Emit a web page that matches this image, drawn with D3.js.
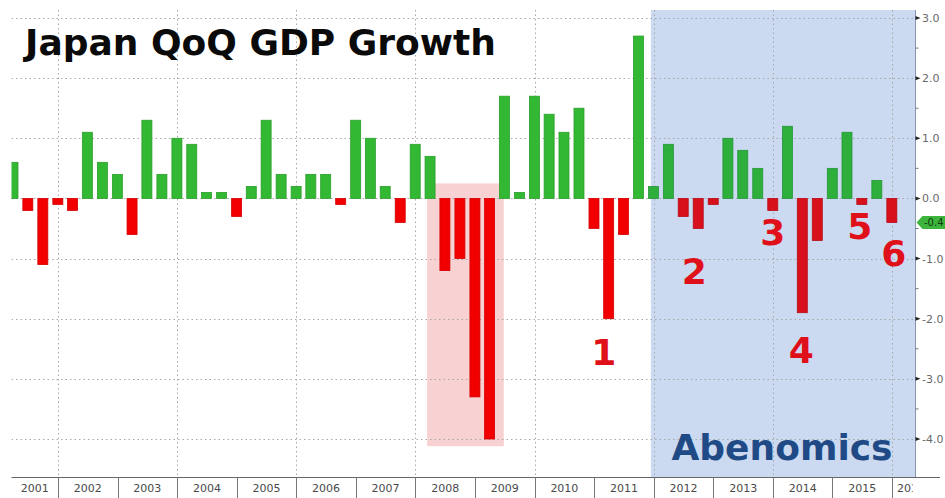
<!DOCTYPE html>
<html>
<head>
<meta charset="utf-8">
<script src="https://cdn.jsdelivr.net/npm/d3@7"></script>
<style>
  html, body { margin: 0; padding: 0; background: #ffffff; }
  svg { display: block; }
</style>
</head>
<body>
<svg id="chart" width="945" height="498"></svg>
<script>
// Quarter-on-quarter real GDP growth, Japan (%)
const quarters = [
  "2001Q1","2001Q2","2001Q3","2001Q4",
  "2002Q1","2002Q2","2002Q3","2002Q4",
  "2003Q1","2003Q2","2003Q3","2003Q4",
  "2004Q1","2004Q2","2004Q3","2004Q4",
  "2005Q1","2005Q2","2005Q3","2005Q4",
  "2006Q1","2006Q2","2006Q3","2006Q4",
  "2007Q1","2007Q2","2007Q3","2007Q4",
  "2008Q1","2008Q2","2008Q3","2008Q4",
  "2009Q1","2009Q2","2009Q3","2009Q4",
  "2010Q1","2010Q2","2010Q3","2010Q4",
  "2011Q1","2011Q2","2011Q3","2011Q4",
  "2012Q1","2012Q2","2012Q3","2012Q4",
  "2013Q1","2013Q2","2013Q3","2013Q4",
  "2014Q1","2014Q2","2014Q3","2014Q4",
  "2015Q1","2015Q2","2015Q3","2015Q4"
];
const growth = [
   0.6, -0.2, -1.1, -0.1,
  -0.2,  1.1,  0.6,  0.4,
  -0.6,  1.3,  0.4,  1.0,
   0.9,  0.1,  0.1, -0.3,
   0.2,  1.3,  0.4,  0.2,
   0.4,  0.4, -0.1,  1.3,
   1.0,  0.2, -0.4,  0.9,
   0.7, -1.2, -1.0, -3.3,
  -4.0,  1.7,  0.1,  1.7,
   1.4,  1.1,  1.5, -0.5,
  -2.0, -0.6,  2.7,  0.2,
   0.9, -0.3, -0.5, -0.1,
   1.0,  0.8,  0.5, -0.2,
   1.2, -1.9, -0.7,  0.5,
   1.1, -0.1,  0.3, -0.4
];
const yearLabels = ["2001","2002","2003","2004","2005","2006","2007","2008",
                    "2009","2010","2011","2012","2013","2014","2015","2016"];
const valueTicks = [3, 2, 1, 0, -1, -2, -3, -4];
const gridYears = [2002, 2004, 2006, 2008, 2010, 2012, 2014, 2016];
// numbered contractions
const callouts = [
  { quarter: "2011Q1", label: "1" },
  { quarter: "2012Q3", label: "2" },
  { quarter: "2013Q4", label: "3" },
  { quarter: "2014Q2", label: "4" },
  { quarter: "2015Q2", label: "5" },
  { quarter: "2015Q4", label: "6" }
];
const crisisSpan = { from: "2008-03-13", to: "2009-06-26", top: 0.25, bottom: -4.12 };
const abenomicsStart = "2011-12-15";
const titleText = "Japan QoQ GDP Growth";
const regimeText = "Abenomics";

// ---- layout ----
const W = 945, H = 498;
const plot = { left: 11.5, right: 915.5, top: 10, bottom: 477.5 };

const quarterEnd = q => {
  const yr = +q.slice(0, 4), qn = +q.slice(5);
  return new Date(Date.UTC(yr, qn * 3, 0));
};
const parseDay = s => new Date(s + "T00:00:00Z");

const x = d3.scaleUtc()
  .domain([new Date(Date.UTC(2002, 0, 1)), new Date(Date.UTC(2016, 0, 1))])
  .range([58, 892]);
const y = d3.scaleLinear().domain([3, -4]).range([18, 439]);

const data = quarters.map((q, i) => ({ q, date: quarterEnd(q), v: growth[i] }));
const aStart = parseDay(abenomicsStart);

const svg = d3.select("#chart");
const defs = svg.append("defs");
defs.append("clipPath").attr("id", "plotClip")
  .append("rect")
  .attr("x", plot.left).attr("y", plot.top)
  .attr("width", plot.right - plot.left).attr("height", plot.bottom - plot.top);
defs.append("clipPath").attr("id", "yearClip")
  .append("rect").attr("x", 0).attr("y", plot.bottom).attr("width", 913).attr("height", 30);

svg.append("rect").attr("width", W).attr("height", H).attr("fill", "#ffffff");

const inner = svg.append("g").attr("clip-path", "url(#plotClip)");

// Abenomics period
inner.append("rect")
  .attr("x", x(aStart))
  .attr("width", plot.right - x(aStart))
  .attr("y", plot.top).attr("height", plot.bottom - plot.top)
  .attr("fill", "#cbdaf0");

// 2008-09 recession band
inner.append("rect")
  .attr("x", x(parseDay(crisisSpan.from)))
  .attr("width", x(parseDay(crisisSpan.to)) - x(parseDay(crisisSpan.from)))
  .attr("y", y(crisisSpan.top))
  .attr("height", y(crisisSpan.bottom) - y(crisisSpan.top))
  .attr("fill", "#f8d2d2");

// dotted grid
inner.append("g").selectAll("line").data(valueTicks).join("line")
  .attr("x1", plot.left).attr("x2", plot.right)
  .attr("y1", d => Math.round(y(d)) + 0.5).attr("y2", d => Math.round(y(d)) + 0.5)
  .attr("stroke", "#a8a8a8").attr("stroke-width", 1).attr("stroke-dasharray", "1.5,3");
inner.append("g").selectAll("line").data(gridYears).join("line")
  .attr("x1", d => Math.round(x(new Date(Date.UTC(d, 0, 1)))) + 0.5)
  .attr("x2", d => Math.round(x(new Date(Date.UTC(d, 0, 1)))) + 0.5)
  .attr("y1", plot.top).attr("y2", plot.bottom)
  .attr("stroke", "#a8a8a8").attr("stroke-width", 1).attr("stroke-dasharray", "1.5,3");

// bars (a shade deeper inside the Abenomics period)
const barW = 10;
const fillOf = d => d.date >= aStart
  ? (d.v >= 0 ? "#2eae3a" : "#d8101c")
  : (d.v >= 0 ? "#33b833" : "#f20000");
const edgeOf = d => d.date >= aStart
  ? (d.v >= 0 ? "#25963a" : "#b80a16")
  : (d.v >= 0 ? "#2a9e2a" : "#d40000");
inner.append("g").selectAll("rect").data(data).join("rect")
  .attr("x", d => x(d.date) - barW / 2)
  .attr("width", barW)
  .attr("y", d => y(Math.max(0, d.v)))
  .attr("height", d => Math.abs(y(d.v) - y(0)))
  .attr("fill", fillOf)
  .attr("stroke", edgeOf)
  .attr("stroke-width", 0.8);

// right value axis
svg.append("line")
  .attr("x1", plot.right).attr("x2", plot.right)
  .attr("y1", plot.top).attr("y2", plot.bottom)
  .attr("stroke", "#8796ab").attr("stroke-width", 1);
const halfTicks = d3.range(-4, 3.01, 0.5).filter(t => !Number.isInteger(t));
svg.append("g").selectAll("line").data(halfTicks).join("line")
  .attr("x1", plot.right).attr("x2", plot.right + 3)
  .attr("y1", d => y(d)).attr("y2", d => y(d))
  .attr("stroke", "#777").attr("stroke-width", 1);
svg.append("g").selectAll("path").data(valueTicks).join("path")
  .attr("d", d => `M${plot.right},${y(d) - 2}L${plot.right + 5},${y(d)}L${plot.right},${y(d) + 2}Z`)
  .attr("fill", "#222");
svg.append("g").selectAll("text").data(valueTicks).join("text")
  .attr("x", 922).attr("y", d => y(d) + 4)
  .attr("font-family", "DejaVu Sans, sans-serif").attr("font-size", 11)
  .attr("fill", "#6a6a6a")
  .text(d => d.toFixed(1));

// last value tag
const last = data[data.length - 1];
const ly = y(last.v);
svg.append("path")
  .attr("d", `M${plot.right + 1},${ly}L${plot.right + 7},${ly - 6.5}L${W + 2},${ly - 6.5}L${W + 2},${ly + 6.5}L${plot.right + 7},${ly + 6.5}Z`)
  .attr("fill", "#3db53d");
svg.append("text")
  .attr("x", 924).attr("y", ly + 4)
  .attr("font-family", "DejaVu Sans, sans-serif").attr("font-size", 10)
  .attr("fill", "#0f3a0f")
  .text(last.v.toFixed(1));

// bottom time axis
svg.append("line")
  .attr("x1", plot.left).attr("x2", 940)
  .attr("y1", plot.bottom).attr("y2", plot.bottom)
  .attr("stroke", "#666").attr("stroke-width", 1);
const yearStarts = yearLabels.map(s => new Date(Date.UTC(+s, 0, 1)));
svg.append("g").selectAll("line").data(yearStarts.slice(1)).join("line")
  .attr("x1", d => Math.round(x(d)) + 0.5).attr("x2", d => Math.round(x(d)) + 0.5)
  .attr("y1", plot.bottom).attr("y2", H)
  .attr("stroke", "#777").attr("stroke-width", 1);
svg.append("g").attr("clip-path", "url(#yearClip)")
  .selectAll("text").data(yearLabels).join("text")
  .attr("x", (d, i) => {
    const a = Math.max(x(yearStarts[i]), plot.left);
    const b = Math.min(x(new Date(Date.UTC(+d + 1, 0, 1))), 930);
    return (a + b) / 2;
  })
  .attr("y", 492)
  .attr("text-anchor", "middle")
  .attr("font-family", "DejaVu Sans, sans-serif").attr("font-size", 11)
  .attr("fill", "#4a4a4a")
  .text(d => d);

// numbered callouts below the contractions
const calloutPlace = { "1": [-5, 46], "2": [-4, 55], "3": [0, 35], "4": [-1, 50], "5": [-2, 35], "6": [2, 44] };
const byQ = new Map(data.map(d => [d.q, d]));
svg.append("g").selectAll("text").data(callouts).join("text")
  .attr("x", d => x(byQ.get(d.quarter).date) + calloutPlace[d.label][0])
  .attr("y", d => y(byQ.get(d.quarter).v) + calloutPlace[d.label][1])
  .attr("text-anchor", "middle")
  .attr("font-family", "DejaVu Sans, sans-serif").attr("font-weight", "bold")
  .attr("font-size", 36)
  .attr("fill", "#e0101a")
  .text(d => d.label);

// titles
svg.append("text")
  .attr("x", 25).attr("y", 55)
  .attr("font-family", "DejaVu Sans, sans-serif").attr("font-weight", "bold")
  .attr("font-size", 36).attr("fill", "#0a0a0a")
  .text(titleText);
svg.append("text")
  .attr("x", 782).attr("y", 460)
  .attr("text-anchor", "middle")
  .attr("font-family", "DejaVu Sans, sans-serif").attr("font-weight", "bold")
  .attr("font-size", 36).attr("fill", "#1f4a86")
  .text(regimeText);
</script>
</body>
</html>
